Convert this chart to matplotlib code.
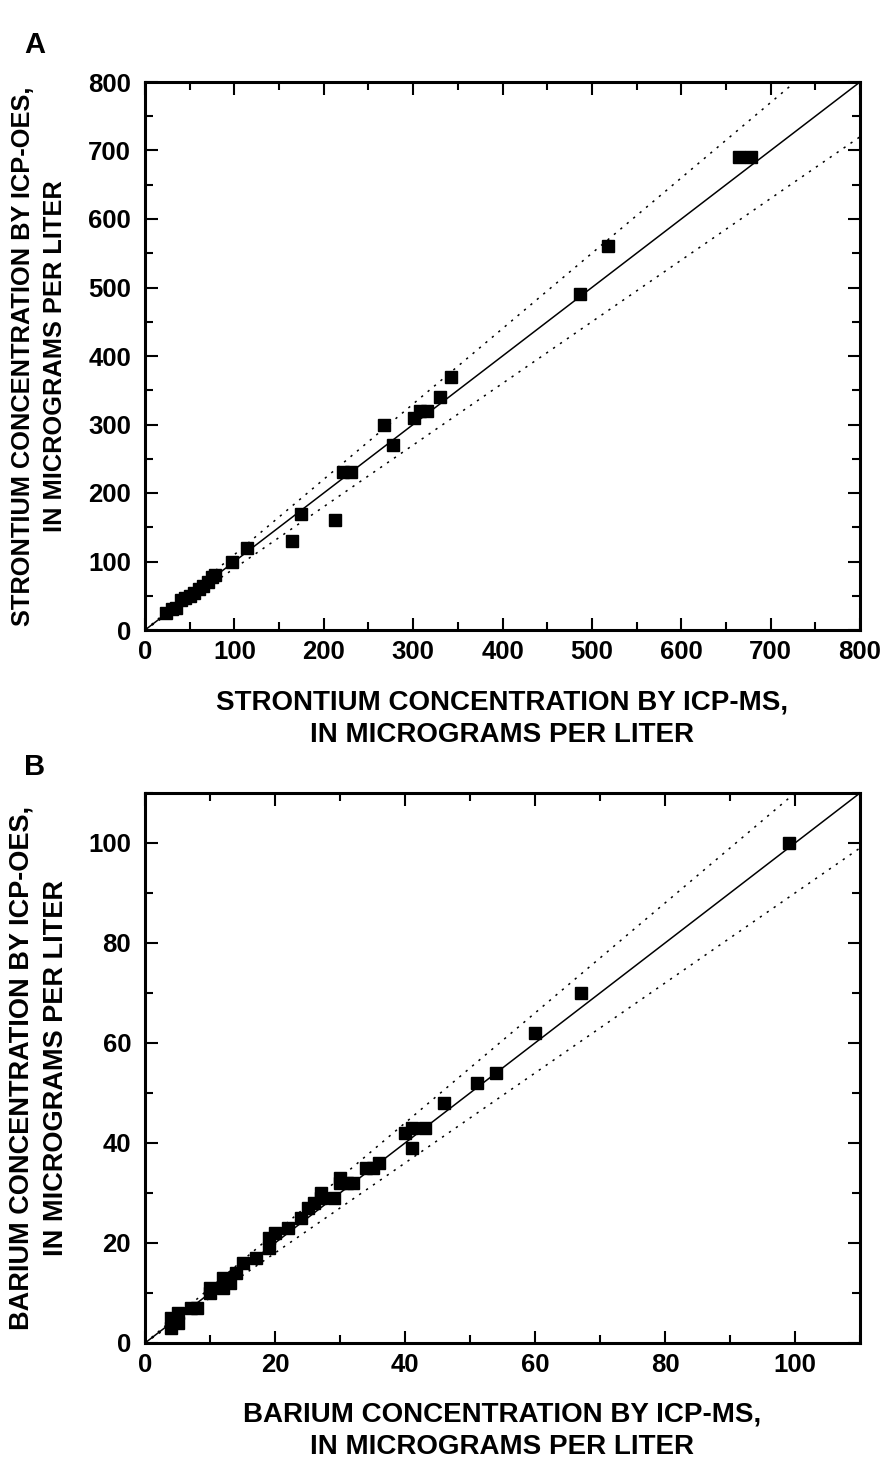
import matplotlib
matplotlib.use("Agg")
import matplotlib.pyplot as plt
import numpy as np
from matplotlib.ticker import MultipleLocator

plt.rcParams['font.family'] = ['Liberation Sans', 'DejaVu Sans']
plt.rcParams['font.weight'] = 'bold'

# Panel A: strontium
sr_ms = [23, 30, 35, 40, 45, 50, 55, 60, 65, 70, 75, 78, 97, 114, 165, 174, 213,
         221, 230, 267, 278, 301, 308, 316, 330, 342, 487, 518, 665, 678]
sr_oes = [25, 30, 32, 44, 47, 50, 54, 60, 64, 70, 78, 80, 100, 120, 130, 170, 160,
          230, 230, 300, 270, 310, 320, 320, 340, 370, 490, 560, 690, 690]

# Panel B: barium
ba_ms = [4, 4, 5, 5, 7, 8, 10, 10, 12, 12, 13, 14, 15, 17, 19, 19, 20, 22, 24, 25,
         26, 27, 27, 29, 30, 30, 31, 32, 34, 35, 36, 40, 41, 41, 43, 46, 51, 54,
         60, 67, 99]
ba_oes = [5, 3, 4, 6, 7, 7, 10, 11, 11, 13, 12, 14, 16, 17, 19, 21, 22, 23, 25, 27,
          28, 29, 30, 29, 33, 32, 32, 32, 35, 35, 36, 42, 43, 39, 43, 48, 52, 54,
          62, 70, 100]

sr_ticks = [0, 100, 200, 300, 400, 500, 600, 700, 800]
ba_ticks = [0, 20, 40, 60, 80, 100]

W, H = 886, 1467
fig = plt.figure(figsize=(W / 100, H / 100), dpi=100)


def make_panel(rect, xs, ys, lim, minor, ticks, xlabel, ylabel, letter, letter_y,
               xlab_y, ylab_x, ylab_size):
    l, t, r, b = rect
    ax = fig.add_axes([l / W, 1 - b / H, (r - l) / W, (b - t) / H])
    line = np.array([0, lim])
    ax.plot(line, line, color='black', lw=1.1, zorder=2)
    ax.plot(line, 1.1 * line, color='black', lw=1.1, ls=(0, (1.5, 4)), zorder=2)
    ax.plot(line, 0.9 * line, color='black', lw=1.1, ls=(0, (1.5, 4)), zorder=2)
    ax.plot(xs, ys, ls='none', marker='s', ms=8.6, color='black', zorder=3)
    ax.set_xlim(0, lim)
    ax.set_ylim(0, lim)
    ax.set_xticks(ticks)
    ax.set_yticks(ticks)
    ax.xaxis.set_minor_locator(MultipleLocator(minor))
    ax.yaxis.set_minor_locator(MultipleLocator(minor))
    ax.tick_params(which='both', direction='in', top=True, right=True, width=1.5)
    ax.tick_params(which='major', length=9, labelsize=18.5)
    ax.tick_params(axis='x', which='major', pad=7)
    ax.tick_params(axis='y', which='major', pad=10)
    ax.tick_params(which='minor', length=5.5)
    for lab in ax.get_xticklabels() + ax.get_yticklabels():
        lab.set_fontweight('bold')
    for s in ax.spines.values():
        s.set_linewidth(2.2)
    cx = (l + r) / 2 / W
    cy = 1 - (t + b) / 2 / H
    fig.text(cx, 1 - xlab_y / H, xlabel, ha='center', va='center', fontsize=20,
             fontweight='bold', linespacing=1.35)
    fig.text(ylab_x / W, cy, ylabel, ha='center', va='center', fontsize=ylab_size,
             fontweight='bold', rotation=90, linespacing=1.45)
    fig.text(24 / W, 1 - letter_y / H, letter, ha='left', va='center', fontsize=21,
             fontweight='bold')
    return ax


make_panel((145, 82, 860, 630), sr_ms, sr_oes, 800, 50, sr_ticks,
           "STRONTIUM CONCENTRATION BY ICP-MS,\nIN MICROGRAMS PER LITER",
           "STRONTIUM CONCENTRATION BY ICP-OES,\nIN MICROGRAMS PER LITER",
           "A", 45, 719, 39, 18.3)
make_panel((145, 793, 860, 1343), ba_ms, ba_oes, 110, 10, ba_ticks,
           "BARIUM CONCENTRATION BY ICP-MS,\nIN MICROGRAMS PER LITER",
           "BARIUM CONCENTRATION BY ICP-OES,\nIN MICROGRAMS PER LITER",
           "B", 767, 1431, 39, 19.5)

fig.savefig("out.png", dpi=100)
